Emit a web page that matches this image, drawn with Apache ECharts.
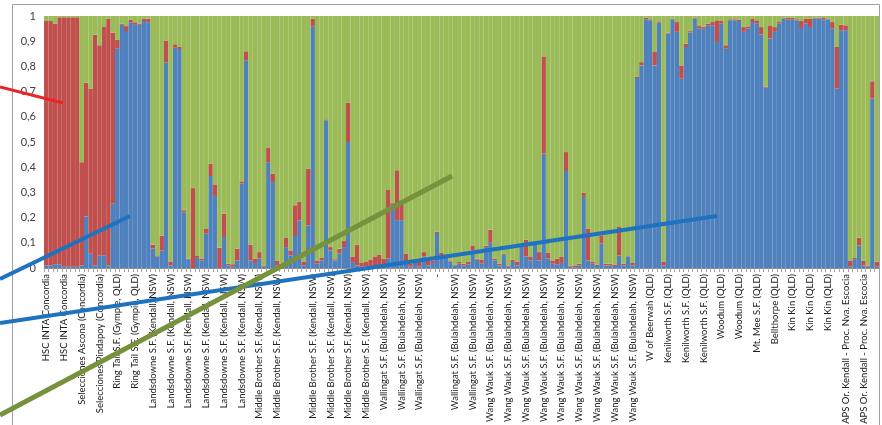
<!DOCTYPE html>
<html><head><meta charset="utf-8">
<script src="https://cdn.jsdelivr.net/npm/echarts@6/dist/echarts.min.js"></script>
<style>html,body{margin:0;padding:0;background:#fff}#c{width:882px;height:425px}</style>
</head><body><div id="c"></div>
<script>
// One label per group of 4 bars (shown every 4th category)
const tickLabels = [
  "HSC INTA Concordia","HSC INTA Concordia",
  "Selecciones Ascona (Concordia)","Selecciones Pindapoy (Concordia)",
  "Ring Tail S.F. (Gympie, QLD)","Ring Tail S.F. (Gympie, QLD)",
  "Landsdowne S.F. (Kendall, NSW)","Landsdowne S.F. (Kendall, NSW)","Landsdowne S.F. (Kendall, NSW)",
  "Landsdowne S.F. (Kendall, NSW)","Landsdowne S.F. (Kendall, NSW)","Landsdowne S.F. (Kendall, NSW)",
  "Middle Brother S.F. (Kendall, NSW)","Middle Brother S.F. (Kendall, NSW)","",
  "Middle Brother S.F. (Kendall, NSW)","Middle Brother S.F. (Kendall, NSW)","Middle Brother S.F. (Kendall, NSW)","Middle Brother S.F. (Kendall, NSW)",
  "Wallingat S.F. (Bulahdelah, NSW)","Wallingat S.F. (Bulahdelah, NSW)","Wallingat S.F. (Bulahdelah, NSW)","-",
  "Wallingat S.F. (Bulahdelah, NSW)","Wallingat S.F. (Bulahdelah, NSW)",
  "Wang Wauk S.F. (Bulahdelah, NSW)","Wang Wauk S.F. (Bulahdelah, NSW)","Wang Wauk S.F. (Bulahdelah, NSW)",
  "Wang Wauk S.F. (Bulahdelah, NSW)","Wang Wauk S.F. (Bulahdelah, NSW)","Wang Wauk S.F. (Bulahdelah, NSW)",
  "Wang Wauk S.F. (Bulahdelah, NSW)","Wang Wauk S.F. (Bulahdelah, NSW)","Wang Wauk S.F. (Bulahdelah, NSW)",
  "W of Beerwah (QLD)","Kenilworth S.F. (QLD)","Kenilworth S.F. (QLD)","Kenilworth S.F. (QLD)",
  "Woodum (QLD)","Woodum (QLD)","Mt. Mee S.F. (QLD)","Bellthorpe (QLD)",
  "Kin Kin (QLD)","Kin Kin (QLD)","Kin Kin (QLD)",
  "APS Or. Kendall - Proc. Nva. Escocia","APS Or. Kendall - Proc. Nva. Escocia"
];
const barsPerLabel = 4;
const yTickLabels = ["0","0,1","0,2","0,3","0,4","0,5","0,6","0,7","0,8","0,9","1"];

const blue = [
 .01,.01,.015,.015,.005,.005,.005,.005,
 .01,.205,.057,.01,.05,.05,.01,.255,
 .87,.965,.94,.975,.965,.965,.98,.975,
 .077,.045,.07,.815,.01,.874,.869,.22,
 .035,0,.04,.03,.136,.365,.286,0,
 .123,.01,.005,.03,.335,.824,.03,.02,
 .037,.005,.42,.341,.01,.005,.083,.05,
 .127,.189,.01,.169,.959,.017,.03,.586,
 .07,.03,.057,.083,.5,.024,.01,.005,
 .005,.005,.005,.005,.005,.037,.255,.19,
 .19,.024,.005,.02,.005,.046,.01,.02,
 .139,.05,.048,.025,.01,.017,.01,.015,
 .07,.033,.017,.083,.1,.03,.01,.053,
 .005,.024,.01,.086,.046,.03,.1,.03,
 .454,.037,.017,.015,.02,.385,.005,.003,
 .01,.282,.03,.017,.008,.097,.01,.01,
 .008,.05,.01,.046,.01,.754,.804,.987,
 .983,.804,.974,.01,.93,.987,.937,.751,
 .877,.934,.99,.95,.95,.963,.963,.897,
 .97,.87,.983,.983,.98,.937,.95,.976,
 .97,.926,.716,.91,.937,.97,.99,.986,
 .986,.983,.952,.97,.956,.99,.99,.987,
 .986,.95,.712,.943,.943,.005,.035,.09,
 .01,.005,.672,.005
];
const red = [
 .97,.97,.955,.98,.99,.99,.99,.99,
 .41,.53,.653,.916,.834,.906,.98,.68,
 .035,.005,.02,.01,.01,.005,.01,.015,
 .016,.005,.058,.088,.016,.014,.008,.009,
 .002,.317,.008,.007,.019,.049,.046,.08,
 .093,.007,.01,.047,.009,.036,.063,.017,
 .026,.005,.056,.033,.02,.012,.036,.02,
 .122,.073,.016,.225,.031,.013,.01,.004,
 .013,.005,.02,.024,.155,.022,.083,.015,
 .021,.029,.039,.049,.032,.275,.005,.198,
 .06,.033,.012,.005,.019,.017,.02,.01,
 .005,.011,.004,.005,.002,.007,.007,.009,
 .02,.004,.017,.005,.052,.007,.007,.003,
 .005,.009,.016,.004,.066,.014,.004,.033,
 .386,.024,.013,.022,.024,.075,.005,.005,
 .007,.016,.126,.007,.005,.033,.007,.007,
 .006,.113,.007,.004,.01,.006,.013,.006,
 .004,.053,.005,.016,.004,.003,.039,.053,
 .013,.006,.004,.01,.007,.007,.013,.086,
 .01,.014,.004,.004,.005,.019,.009,.014,
 .013,.03,.004,.053,.019,.006,.004,.007,
 .007,.004,.028,.02,.034,.004,.004,.005,
 .004,.026,.165,.023,.02,.025,.005,.03,
 .02,.005,.069,.02
];
const green = [
 .02,.02,.03,.005,.005,.005,.005,.005,
 .58,.265,.29,.074,.116,.044,.01,.065,
 .095,.03,.04,.015,.025,.03,.01,.01,
 .907,.95,.872,.097,.974,.112,.123,.771,
 .963,.683,.952,.963,.845,.586,.668,.92,
 .784,.983,.985,.923,.656,.14,.907,.963,
 .937,.99,.524,.626,.97,.983,.881,.93,
 .751,.738,.974,.606,.01,.97,.96,.41,
 .917,.965,.923,.893,.345,.954,.907,.98,
 .974,.966,.956,.946,.963,.688,.74,.612,
 .75,.943,.983,.975,.976,.937,.97,.97,
 .856,.939,.948,.97,.988,.976,.983,.976,
 .91,.963,.966,.912,.848,.963,.983,.944,
 .99,.967,.974,.91,.888,.956,.896,.937,
 .16,.939,.97,.963,.956,.54,.99,.992,
 .983,.702,.844,.976,.987,.87,.983,.983,
 .986,.837,.983,.95,.98,.24,.183,.007,
 .013,.143,.021,.974,.066,.01,.024,.196,
 .11,.06,.006,.04,.043,.03,.024,.017,
 .02,.116,.013,.013,.015,.044,.041,.01,
 .017,.044,.28,.037,.044,.024,.006,.007,
 .007,.013,.02,.01,.01,.006,.006,.008,
 .01,.024,.123,.034,.037,.97,.96,.88,
 .97,.99,.259,.975
];

const categories = [];
tickLabels.forEach(l => { for (let k = 0; k < barsPerLabel; k++) categories.push(l); });

const FONT = "Lato, 'Liberation Sans', sans-serif";
const chart = echarts.init(document.getElementById('c'), null, {renderer: 'canvas'});
const barBase = {type: 'bar', stack: 'q', barWidth: '100%', barCategoryGap: '0%', animation: false, silent: true};
chart.setOption({
  animation: false,
  backgroundColor: '#ffffff',
  grid: {left: 44, right: 3, top: 16, bottom: 157, containLabel: false, outerBoundsMode: 'none'},
  xAxis: {
    type: 'category', data: categories, boundaryGap: true,
    axisLine: {show: true, lineStyle: {color: '#8c8c8c'}},
    axisTick: {show: true, interval: 0, length: 4, lineStyle: {color: '#a6a6a6'}},
    axisLabel: {interval: barsPerLabel - 1, rotate: 90, fontSize: 9.5, margin: 6, color: '#202020', fontFamily: FONT}
  },
  yAxis: {
    type: 'value', min: 0, max: 1, interval: 0.1,
    axisLine: {show: false}, axisTick: {show: false}, splitLine: {show: false},
    axisLabel: {fontSize: 11, margin: 8, color: '#404040', fontFamily: FONT,
      formatter: v => yTickLabels[Math.round(v * 10)]}
  },
  series: [
    Object.assign({name: 'K1', data: blue, itemStyle: {color: '#4f81bd'}}, barBase),
    Object.assign({name: 'K2', data: red, itemStyle: {color: '#c0504d'}}, barBase),
    Object.assign({name: 'K3', data: green, itemStyle: {color: '#9bbb59'}}, barBase)
  ],
  graphic: [
    {type: 'rect', z: 50, silent: true, shape: {x: 12.5, y: 4.5, width: 867, height: 440},
     style: {fill: 'none', stroke: '#a0a0a0', lineWidth: 1}},
    {type: 'line', z: 100, silent: true, shape: {x1: 0, y1: 279, x2: 130, y2: 216},
     style: {stroke: '#1f72bf', lineWidth: 4}},
    {type: 'line', z: 100, silent: true, shape: {x1: 0, y1: 323, x2: 717, y2: 216},
     style: {stroke: '#1f72bf', lineWidth: 4}},
    {type: 'line', z: 101, silent: true, shape: {x1: 0, y1: 415, x2: 452, y2: 176},
     style: {stroke: '#76923c', lineWidth: 5}},
    {type: 'line', z: 102, silent: true, shape: {x1: 0, y1: 87, x2: 63, y2: 103},
     style: {stroke: '#e8262a', lineWidth: 3}}
  ]
});
</script></body></html>
